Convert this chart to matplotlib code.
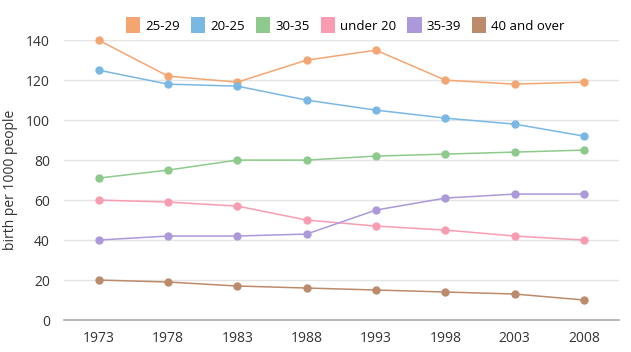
import matplotlib.pyplot as plt
from matplotlib.patches import Patch

plt.rcParams['font.family'] = ['Open Sans', 'DejaVu Sans']

years = ['1973', '1978', '1983', '1988', '1993', '1998', '2003', '2008']
series_names = ['25-29', '20-25', '30-35', 'under 20', '35-39', '40 and over']
age_25_29 = [140, 122, 119, 130, 135, 120, 118, 119]
age_20_25 = [125, 118, 117, 110, 105, 101, 98, 92]
age_30_35 = [71, 75, 80, 80, 82, 83, 84, 85]
under_20 = [60, 59, 57, 50, 47, 45, 42, 40]
age_35_39 = [40, 42, 42, 43, 55, 61, 63, 63]
over_40 = [20, 19, 17, 16, 15, 14, 13, 10]
colors = ['#f4a672', '#7ab8e4', '#8dca8c', '#f99cb2', '#ab99d9', '#bb8b6c']

fig = plt.figure(figsize=(6.31, 3.52), dpi=100)
ax = fig.add_axes([0.1014, 0.0909, 0.879, 0.795])

all_series = [age_25_29, age_20_25, age_30_35, under_20, age_35_39, over_40]
x = range(len(years))
for vals, c in zip(all_series, colors):
    ax.plot(x, vals, color=c, lw=1.1, marker='o', ms=5, clip_on=False, zorder=3)

ax.set_xlim(-0.5, len(years) - 0.5)
ax.set_ylim(0, 140)
ax.set_xticks(list(x))
ax.set_xticklabels(years)
ax.set_yticks(range(0, 141, 20))
ax.yaxis.grid(True, color='#e4e4e4', lw=1)
ax.set_axisbelow(True)
for s in ['top', 'right', 'left']:
    ax.spines[s].set_visible(False)
ax.spines['bottom'].set_color('#aaaaaa')
ax.spines['bottom'].set_linewidth(1.2)
ax.tick_params(axis='both', length=0, labelsize=10, colors='#333333', pad=8)
ax.tick_params(axis='y', pad=10)
ax.set_ylabel('birth per 1000 people', fontsize=10, color='#333333', labelpad=6)

handles = [Patch(facecolor=c, edgecolor='none') for c in colors]
fig.legend(handles, series_names, loc='center', bbox_to_anchor=(0.547, 0.928),
           ncol=6, frameon=False, fontsize=9.5, handlelength=1.1, handleheight=1.5,
           handletextpad=0.35, columnspacing=0.85)

fig.savefig('out.png', dpi=100)
